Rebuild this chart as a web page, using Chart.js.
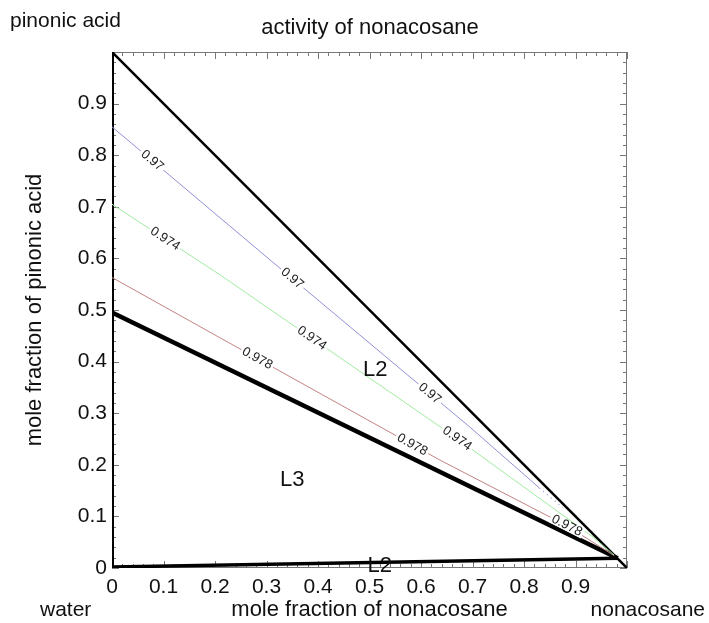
<!DOCTYPE html>
<html>
<head>
<meta charset="utf-8">
<script src="https://cdn.jsdelivr.net/npm/chart.js@4.4.0/dist/chart.umd.min.js"></script>
<style>
  html, body { margin: 0; padding: 0; background: #fff; }
  #wrap { width: 709px; height: 623px; }
</style>
</head>
<body>
<div id="wrap"><canvas id="c"></canvas></div>
<script>
// phase boundaries: [mole fraction nonacosane, mole fraction pinonic acid]
const leftEdge = [[0, 0], [0, 1]];
const hypotenuse = [[0, 1], [1, 0]];
const l2Lower = [[0, 0.002], [0.982, 0.019]];
const l3Upper = [[0, 0.495], [0.982, 0.019]];

// activity of nonacosane contours
const c970 = [[0, 0.855], [0.307, 0.597], [0.695, 0.273], [0.83, 0.155]];
const c970Tail = [[0.83, 0.155], [0.875, 0.117]];
const c974 = [[0, 0.705], [0.21, 0.568], [0.66, 0.258], [0.934, 0.06], [0.975, 0.025]];
const c978 = [[0, 0.563], [0.21, 0.446], [0.637, 0.209], [0.883, 0.082], [0.975, 0.024]];

// where the contour values are written (x positions along each contour)
const label970X = [0.078, 0.35, 0.617];
const label974X = [0.103, 0.388, 0.67];
const label978X = [0.282, 0.583, 0.883];

// region names
const regionNames = ['L2', 'L3', 'L2'];
const regionPos = [[0.511, 0.384], [0.35, 0.17], [0.52, 0.004]];

const tickValues = [0, 0.1, 0.2, 0.3, 0.4, 0.5, 0.6, 0.7, 0.8, 0.9, 1];

const FONT = '"Liberation Sans", Arial, Helvetica, sans-serif';

const toXY = pts => pts.map(p => ({ x: p[0], y: p[1] }));

const lineSet = (pts, color, width, dash) => ({
    data: toXY(pts),
    showLine: true,
    borderColor: color,
    borderWidth: width,
    borderDash: dash || [],
    pointRadius: 0,
    fill: false,
    tension: 0
});

// y on a contour at a given x (piecewise linear through the read points)
function segmentAt(pts, x) {
    for (let i = 0; i < pts.length - 1; i++) {
        if (x >= pts[i][0] && x <= pts[i + 1][0]) return i;
    }
    return pts.length - 2;
}
function yAt(pts, x) {
    const i = segmentAt(pts, x);
    const [x0, y0] = pts[i], [x1, y1] = pts[i + 1];
    return y0 + (y1 - y0) * (x - x0) / (x1 - x0);
}

const frameTicks = {
    id: 'frameTicks',
    beforeDatasetsDraw(chart) {
        const { ctx, chartArea: a, scales: { x, y } } = chart;
        ctx.save();
        ctx.strokeStyle = '#777';
        ctx.lineWidth = 1;
        ctx.strokeRect(a.left + 0.5, a.top + 0.5, a.width - 1, a.height - 1);
        ctx.beginPath();
        for (let i = 0; i <= 50; i++) {
            const v = i / 50;
            const len = i % 5 === 0 ? 7 : 4;
            const px = Math.round(x.getPixelForValue(v)) + 0.5;
            ctx.moveTo(px, a.top); ctx.lineTo(px, a.top + len);
            ctx.moveTo(px, a.bottom); ctx.lineTo(px, a.bottom - len);
            const py = Math.round(y.getPixelForValue(v)) + 0.5;
            ctx.moveTo(a.left, py); ctx.lineTo(a.left + len, py);
            ctx.moveTo(a.right, py); ctx.lineTo(a.right - len, py);
        }
        ctx.stroke();
        ctx.restore();
    }
};

const contourText = {
    id: 'contourText',
    afterDatasetsDraw(chart) {
        const { ctx, scales: { x, y } } = chart;
        const groups = [[c970, label970X, '0.97'], [c974, label974X, '0.974'], [c978, label978X, '0.978']];
        ctx.save();
        ctx.font = '13px ' + FONT;
        ctx.textAlign = 'center';
        ctx.textBaseline = 'middle';
        groups.forEach(([pts, xs, text]) => {
            xs.forEach(v => {
                const i = segmentAt(pts, v);
                const ax = x.getPixelForValue(pts[i][0]), ay = y.getPixelForValue(pts[i][1]);
                const bx = x.getPixelForValue(pts[i + 1][0]), by = y.getPixelForValue(pts[i + 1][1]);
                const ang = Math.atan2(by - ay, bx - ax);
                const px = x.getPixelForValue(v), py = y.getPixelForValue(yAt(pts, v));
                const w = ctx.measureText(text).width;
                ctx.save();
                ctx.translate(px, py);
                ctx.rotate(ang);
                ctx.fillStyle = '#fff';
                ctx.fillRect(-w / 2 - 2, -5, w + 4, 10);
                ctx.fillStyle = '#222';
                ctx.fillText(text, 0, 0);
                ctx.restore();
            });
        });

        ctx.font = '22px ' + FONT;
        ctx.fillStyle = '#111';
        regionNames.forEach((t, k) => {
            ctx.fillText(t, x.getPixelForValue(regionPos[k][0]), y.getPixelForValue(regionPos[k][1]));
        });

        // corner and top labels
        ctx.font = '21px ' + FONT;
        ctx.textAlign = 'left';
        ctx.fillText('pinonic acid', 10, 21);
        ctx.fillText('water', 40, 610);
        ctx.textAlign = 'right';
        ctx.fillText('nonacosane', 705, 610);
        ctx.textAlign = 'center';
        ctx.font = '22px ' + FONT;
        ctx.fillText('activity of nonacosane', 370, 28);
        ctx.restore();
    }
};

new Chart(document.getElementById('c'), {
    type: 'scatter',
    data: {
        datasets: [
            lineSet(c970, 'rgb(145,145,215)', 1),
            lineSet(c970Tail, 'rgb(145,145,215)', 1.2, [1, 4]),
            lineSet(c974, 'rgb(160,235,160)', 1),
            lineSet(c978, 'rgb(195,130,130)', 1),
            lineSet(hypotenuse, '#000', 2.5),
            lineSet(l3Upper, '#000', 4.5),
            lineSet(l2Lower, '#000', 3.5),
            lineSet(leftEdge, '#000', 4)
        ]
    },
    options: {
        responsive: true,
        maintainAspectRatio: false,
        animation: false,
        layout: { padding: { top: 52, right: 82, left: 0, bottom: 0 } },
        plugins: {
            legend: { display: false },
            tooltip: { enabled: false }
        },
        scales: {
            x: {
                type: 'linear',
                min: 0,
                max: 1,
                afterFit: s => { s.height = 55; },
                afterBuildTicks: s => { s.ticks = tickValues.map(v => ({ value: v })); },
                grid: { display: false, drawTicks: false },
                border: { display: false },
                ticks: {
                    padding: 7,
                    maxRotation: 0,
                    autoSkip: false,
                    color: '#111',
                    font: { family: FONT, size: 21 },
                    callback: v => (v >= 1 ? '' : String(+v.toFixed(1)))
                },
                title: {
                    display: true,
                    text: 'mole fraction of nonacosane',
                    color: '#111',
                    font: { family: FONT, size: 22 },
                    padding: { top: 0, bottom: 0 }
                }
            },
            y: {
                type: 'linear',
                min: 0,
                max: 1,
                afterFit: s => { s.width = 112; },
                afterBuildTicks: s => { s.ticks = tickValues.map(v => ({ value: v })); },
                grid: { display: false, drawTicks: false },
                border: { display: false },
                ticks: {
                    padding: 5,
                    autoSkip: false,
                    color: '#111',
                    font: { family: FONT, size: 21 },
                    callback: v => (v >= 1 ? '' : String(+v.toFixed(1)))
                },
                title: {
                    display: true,
                    text: 'mole fraction of pinonic acid',
                    color: '#111',
                    font: { family: FONT, size: 22 },
                    padding: { top: 22, bottom: 0 }
                }
            }
        }
    },
    plugins: [frameTicks, contourText]
});
</script>
</body>
</html>
